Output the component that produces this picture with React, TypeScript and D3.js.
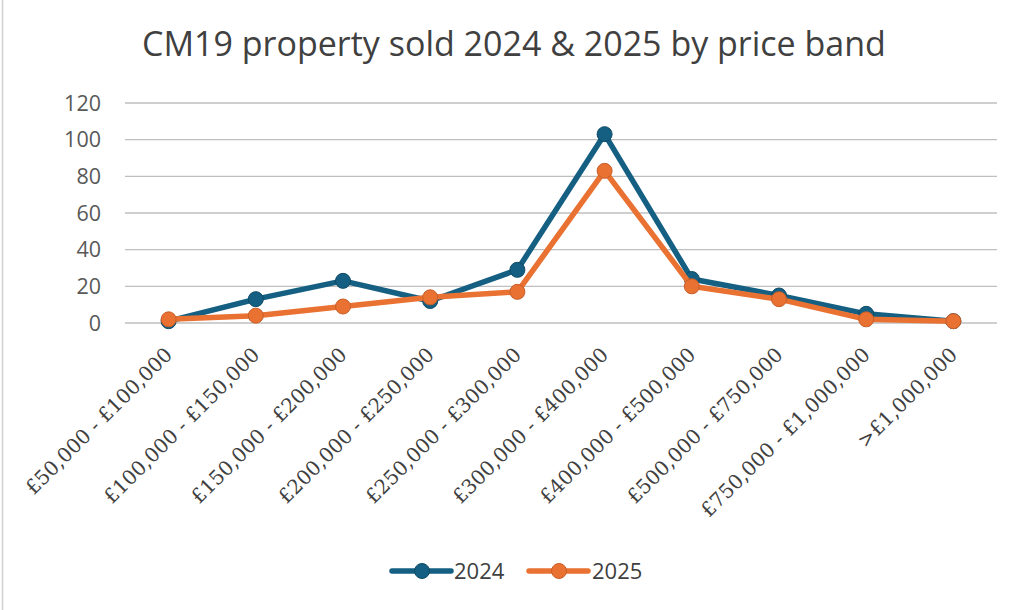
import React from "react";
import * as d3 from "d3";

const categories = [
  "£50,000 - £100,000",
  "£100,000 - £150,000",
  "£150,000 - £200,000",
  "£200,000 - £250,000",
  "£250,000 - £300,000",
  "£300,000 - £400,000",
  "£400,000 - £500,000",
  "£500,000 - £750,000",
  "£750,000 - £1,000,000",
  ">£1,000,000",
];
const values2024 = [1, 13, 23, 12, 29, 103, 24, 15, 5, 1];
const values2025 = [2, 4, 9, 14, 17, 83, 20, 13, 2, 1];
const yTicks = [0, 20, 40, 60, 80, 100, 120];
const seriesNames = ["2024", "2025"];
const title = "CM19 property sold 2024 & 2025 by price band";

const W = 1024;
const H = 610;
const left = 125;
const right = 997;
const top = 103;
const bottom = 323;

const colors = ["#156082", "#E97132"];
const strokes = ["#0f4a66", "#c75e28"];

export default function App() {
  const x = d3
    .scaleBand<string>()
    .domain(categories)
    .range([left, right])
    .padding(0);
  const y = d3.scaleLinear().domain([0, 120]).range([bottom, top]);
  const cx = (c: string) => (x(c) ?? 0) + x.bandwidth() / 2;
  const line = d3
    .line<number>()
    .x((_, i) => cx(categories[i]))
    .y((d) => y(d));
  const series = [values2024, values2025];
  const sans = "'Open Sans', 'Liberation Sans', sans-serif";
  const legendItems = [
    { x0: 392, tx: 454 },
    { x0: 529, tx: 592 },
  ];
  return (
    <svg
      width={W}
      height={H}
      style={{ position: "absolute", left: 0, top: 0, background: "#fff" }}
    >
      <rect x={0} y={0} width={W} height={H} fill="#fff" />
      <line x1={2.5} x2={2.5} y1={0} y2={H} stroke="#d0d0d0" strokeWidth={1.5} />
      <text
        x={514}
        y={56}
        textAnchor="middle"
        fontFamily={sans}
        fontSize={34}
        fill="#404040"
      >
        {title}
      </text>
      {yTicks.map((t) => (
        <g key={t}>
          <line
            x1={left}
            x2={right}
            y1={y(t)}
            y2={y(t)}
            stroke="#bfbfbf"
            strokeWidth={1.3}
          />
          <text
            x={101}
            y={y(t) + 7.5}
            textAnchor="end"
            fontFamily={sans}
            fontSize={21.5}
            fill="#595959"
          >
            {t}
          </text>
        </g>
      ))}
      {categories.map((c) => (
        <text
          key={c}
          transform={`translate(${cx(c) + 5},${356}) rotate(-45)`}
          textAnchor="end"
          fontFamily="DejaVu Serif"
          fontSize={20}
          fill="#404040"
        >
          {c}
        </text>
      ))}
      {series.map((vals, si) => (
        <g key={si}>
          <path
            d={line(vals) ?? ""}
            fill="none"
            stroke={colors[si]}
            strokeWidth={5.5}
            strokeLinejoin="round"
            strokeLinecap="round"
          />
          {vals.map((v, i) => (
            <circle
              key={i}
              cx={cx(categories[i])}
              cy={y(v)}
              r={7.5}
              fill={colors[si]}
              stroke={strokes[si]}
              strokeWidth={1}
            />
          ))}
        </g>
      ))}
      {legendItems.map((li, i) => (
        <g key={i}>
          <line
            x1={li.x0}
            x2={li.x0 + 59}
            y1={571}
            y2={571}
            stroke={colors[i]}
            strokeWidth={5.5}
            strokeLinecap="round"
          />
          <circle cx={li.x0 + 30} cy={571} r={7.5} fill={colors[i]} stroke={strokes[i]} strokeWidth={1} />
          <text
            x={li.tx}
            y={579}
            fontFamily={sans}
            fontSize={22}
            fill="#404040"
          >
            {seriesNames[i]}
          </text>
        </g>
      ))}
    </svg>
  );
}
